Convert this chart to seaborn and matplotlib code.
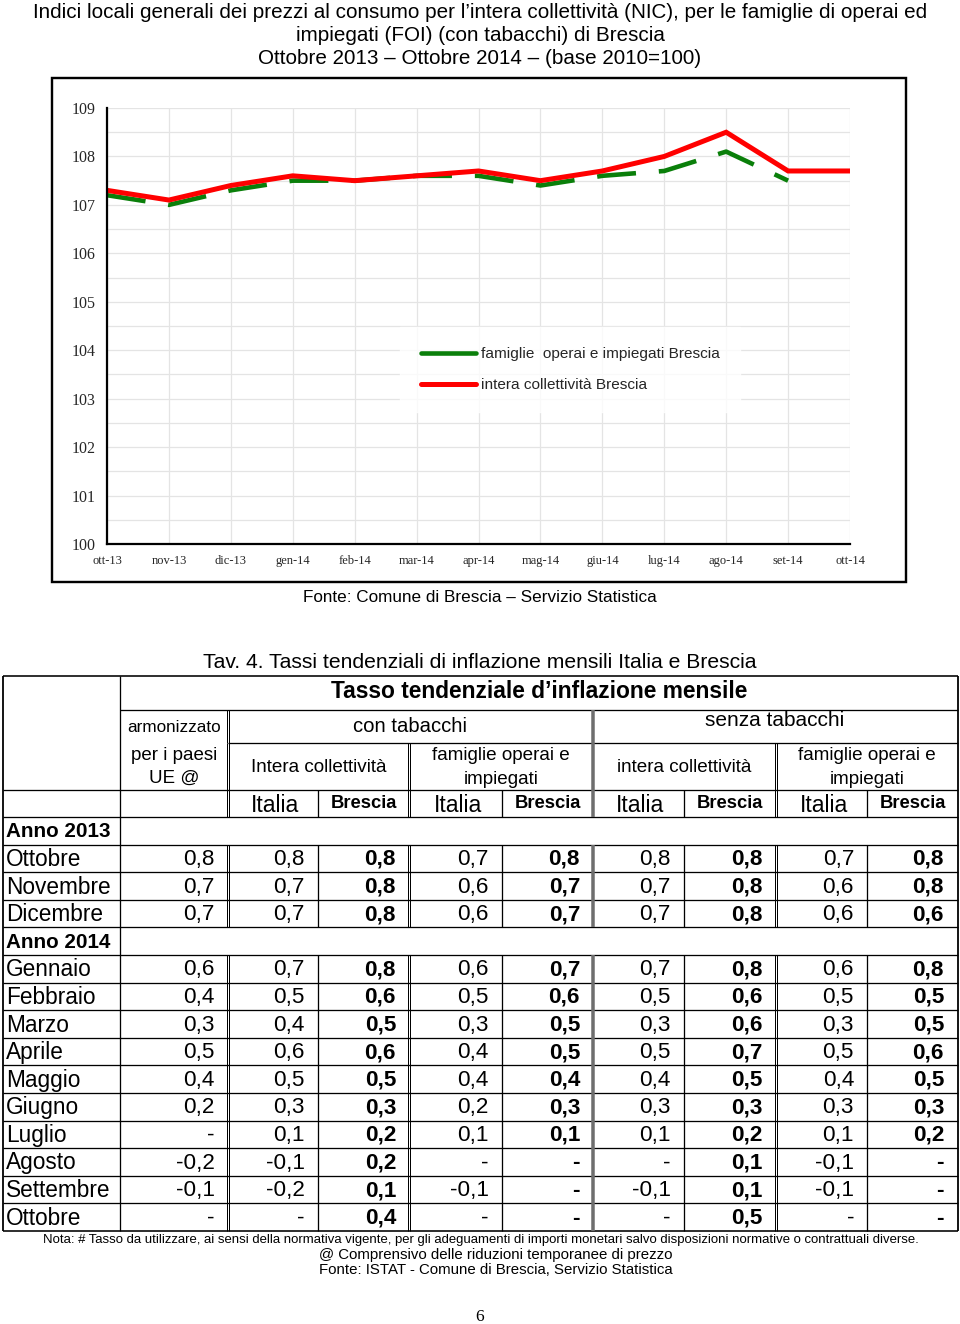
import numpy as np
import pandas as pd
import matplotlib
matplotlib.use("Agg")
import matplotlib.pyplot as plt
import seaborn as sns
from matplotlib.patches import Rectangle
from matplotlib.lines import Line2D

# ---------------- data: line chart ----------------
months = ["ott-13", "nov-13", "dic-13", "gen-14", "feb-14", "mar-14", "apr-14",
          "mag-14", "giu-14", "lug-14", "ago-14", "set-14", "ott-14"]
intera_brescia = [107.3, 107.1, 107.4, 107.6, 107.5, 107.6, 107.7,
                  107.5, 107.7, 108.0, 108.5, 107.7, 107.7]
famiglie_brescia = [107.2, 107.0, 107.3, 107.5, 107.5, 107.6, 107.6,
                    107.4, 107.6, 107.7, 108.1, 107.5, np.nan]
y_ticks = [100, 101, 102, 103, 104, 105, 106, 107, 108, 109]

# ---------------- data: table ----------------
mesi_2013 = ["Ottobre", "Novembre", "Dicembre"]
mesi_2014 = ["Gennaio", "Febbraio", "Marzo", "Aprile", "Maggio", "Giugno",
             "Luglio", "Agosto", "Settembre", "Ottobre"]
armonizzato = [0.8, 0.7, 0.7, 0.6, 0.4, 0.3, 0.5, 0.4, 0.2, None, -0.2, -0.1, None]
con_ic_italia = [0.8, 0.7, 0.7, 0.7, 0.5, 0.4, 0.6, 0.5, 0.3, 0.1, -0.1, -0.2, None]
con_ic_brescia = [0.8, 0.8, 0.8, 0.8, 0.6, 0.5, 0.6, 0.5, 0.3, 0.2, 0.2, 0.1, 0.4]
con_fam_italia = [0.7, 0.6, 0.6, 0.6, 0.5, 0.3, 0.4, 0.4, 0.2, 0.1, None, -0.1, None]
con_fam_brescia = [0.8, 0.7, 0.7, 0.7, 0.6, 0.5, 0.5, 0.4, 0.3, 0.1, None, None, None]
senza_ic_italia = [0.8, 0.7, 0.7, 0.7, 0.5, 0.3, 0.5, 0.4, 0.3, 0.1, None, -0.1, None]
senza_ic_brescia = [0.8, 0.8, 0.8, 0.8, 0.6, 0.6, 0.7, 0.5, 0.3, 0.2, 0.1, 0.1, 0.5]
senza_fam_italia = [0.7, 0.6, 0.6, 0.6, 0.5, 0.3, 0.5, 0.4, 0.3, 0.1, -0.1, -0.1, None]
senza_fam_brescia = [0.8, 0.8, 0.6, 0.8, 0.5, 0.5, 0.6, 0.5, 0.3, 0.2, None, None, None]

table_cols = [armonizzato, con_ic_italia, con_ic_brescia, con_fam_italia, con_fam_brescia,
              senza_ic_italia, senza_ic_brescia, senza_fam_italia, senza_fam_brescia]
bold_cols = [False, False, True, False, True, False, True, False, True]

sns.set_theme(style="white")
SANS = ["Liberation Sans", "DejaVu Sans"]
SERIF = ["Liberation Serif", "DejaVu Serif"]
plt.rcParams["font.family"] = SANS

W, H = 960, 1324
fig = plt.figure(figsize=(W / 100, H / 100), dpi=100)
fig.patch.set_facecolor("white")

# overlay axes in pixel coordinates
ov = fig.add_axes([0, 0, 1, 1])
ov.set_xlim(0, W)
ov.set_ylim(H, 0)
ov.axis("off")

PX = 0.72  # points per pixel


def txt(x, y, s, size, ha="center", weight="normal", family=SANS, va="center"):
    ov.text(x, y, s, fontsize=size, ha=ha, va=va, fontweight=weight,
            family=family, color="black")


def hline(y, x0, x1, lw=1.3, color="black"):
    ov.plot([x0, x1], [y, y], color=color, lw=lw * PX, solid_capstyle="butt")


def vline(x, y0, y1, lw=1.3, color="black"):
    ov.plot([x, x], [y0, y1], color=color, lw=lw * PX, solid_capstyle="butt")


# ---------------- titles ----------------
title_lines = [
    "Indici locali generali dei prezzi al consumo per l\u2019intera collettività (NIC), per le famiglie di operai ed",
    "impiegati (FOI) (con tabacchi) di Brescia",
    "Ottobre 2013 \u2013 Ottobre 2014 \u2013 (base 2010=100)",
]
for i, line in enumerate(title_lines):
    txt(480, 12 + i * 23.5, line, 14.9)

# chart frame
ov.add_patch(Rectangle((52, 78), 854, 504, fill=False, lw=2.4 * PX, ec="black"))

# ---------------- line chart ----------------
ax = fig.add_axes([107 / W, 1 - 544 / H, 743 / W, 436 / H])
df = pd.DataFrame({"pos": np.arange(len(months)), "mese": months,
                   "intera": intera_brescia, "famiglie": famiglie_brescia})
sns.lineplot(data=df, x="pos", y="famiglie", color="#0a7f0a", lw=3.3, ax=ax)
ax.lines[-1].set_dashes((8.5, 5))
ax.lines[-1].set_dash_capstyle("butt")
sns.lineplot(data=df, x="pos", y="intera", color="#ff0000", lw=3.6, ax=ax)
ax.lines[-1].set_solid_joinstyle("miter")

ax.set_xlim(0, len(months) - 1)
ax.set_ylim(100, 109)
ax.set_xticks(df["pos"])
ax.set_xticklabels(months, family=SERIF, fontsize=9)
ax.set_yticks(y_ticks)
ax.set_yticklabels([str(v) for v in y_ticks], family=SERIF, fontsize=11.5)
ax.set_yticks(np.array(y_ticks[:-1]) + 0.5, minor=True)
ax.tick_params(axis="both", which="major", direction="inout", length=8,
               width=1.3, color="black")
ax.tick_params(axis="y", which="major", pad=4)
ax.tick_params(axis="x", which="major", pad=4)
ax.tick_params(axis="y", which="minor", length=0)
ax.grid(True, axis="y", which="both", color="#e4e4e4", lw=0.9)
ax.grid(True, axis="x", which="major", color="#e4e4e4", lw=0.9)
ax.set_xlabel("")
ax.set_ylabel("")
for s in ["top", "right"]:
    ax.spines[s].set_visible(False)
for s in ["left", "bottom"]:
    ax.spines[s].set_color("black")
    ax.spines[s].set_linewidth(1.6)
ax.set_facecolor("none")

handles = [Line2D([], [], color="#0a7f0a", lw=3.3),
           Line2D([], [], color="#ff0000", lw=3.6)]
leg = ax.legend(handles, ["famiglie  operai e impiegati Brescia", "intera collettività Brescia"],
                loc="center left", bbox_to_anchor=(0.395, 0.40), frameon=True,
                fontsize=11.1, handlelength=3.6, handletextpad=0.35,
                labelspacing=1.1, borderpad=1.3, borderaxespad=0, fancybox=False)
leg.get_frame().set_facecolor("white")
leg.get_frame().set_edgecolor("white")

txt(480, 598, "Fonte: Comune di Brescia \u2013 Servizio Statistica", 12.3)

# ---------------- table ----------------
txt(480, 662, "Tav. 4. Tassi tendenziali di inflazione mensili Italia e Brescia", 15.2)

cx = [3, 120, 228, 318, 409, 502, 593, 684, 776, 867, 958]
double_x = {228, 409, 776}
body_top = 817
row_h = 27.6
n_rows = 2 + len(mesi_2013) + len(mesi_2014)
body_bot = body_top + n_rows * row_h


def vdraw(x, y0, y1):
    if x == 593:
        vline(x, y0, y1, lw=3.5, color="#6e6e6e")
    elif x in double_x:
        vline(x - 1.2, y0, y1, lw=1.0)
        vline(x + 1.2, y0, y1, lw=1.0)
    else:
        vline(x, y0, y1)


# header horizontal lines
hline(676, 3, 958, lw=1.6)
hline(710, 120, 958)
hline(743, 228, 958)
hline(790, 3, 958)
hline(817, 3, 958)
# header vertical lines
vline(3, 676, body_bot, lw=1.8)
vline(958, 676, body_bot, lw=1.8)
vline(120, 676, body_bot)
for x in [228, 593]:
    vdraw(x, 710, 743)
for x in [228, 409, 593, 776]:
    vdraw(x, 743, 790)
for x in cx[2:-1]:
    vdraw(x, 790, 817)

# header texts
txt(539, 692, "Tasso tendenziale d\u2019inflazione mensile", 16.4, weight="bold")
txt(174, 727, "armonizzato", 12.3)
txt(410, 726, "con tabacchi", 14.6)
txt(775, 721, "senza tabacchi", 15)
txt(174, 756, "per i paesi", 13.5)
txt(174, 778, "UE @", 13.5)
txt(319, 767, "Intera collettività", 13.6)
txt(501, 756, "famiglie operai e", 13.6)
txt(501, 779, "impiegati", 13.6)
txt(684, 767, "intera collettività", 13.6)
txt(867, 756, "famiglie operai e", 13.6)
txt(867, 779, "impiegati", 13.6)
for i in range(2, 10):
    xc = (cx[i] + cx[i + 1]) / 2
    if i % 2 == 0:
        txt(xc + 2, 805, "Italia", 16.5)
    else:
        txt(xc, 803, "Brescia", 13.2, weight="bold")


def fmt(v):
    return "-" if v is None else f"{v:.1f}".replace(".", ",")


rows = [("Anno 2013", None)] + [(m, k) for k, m in enumerate(mesi_2013)] + \
       [("Anno 2014", None)] + [(m, k + len(mesi_2013)) for k, m in enumerate(mesi_2014)]

for r, (label, k) in enumerate(rows):
    y0 = body_top + r * row_h
    y1 = y0 + row_h
    yc = (y0 + y1) / 2 + 1
    hline(y1, 3, 958, lw=1.6 if r == n_rows - 1 else 1.3)
    if k is None:
        txt(6, yc, label, 14.9, ha="left", weight="bold")
        continue
    txt(6, yc, label, 16.3, ha="left")
    for x in cx[2:-1]:
        vdraw(x, y0, y1)
    for j, col in enumerate(table_cols):
        txt(cx[j + 2] - 13 if j < 8 else cx[-1] - 14, yc, fmt(col[k]), 16.2,
            ha="right", weight="bold" if bold_cols[j] else "normal")

# notes
txt(481, 1240, "Nota: # Tasso da utilizzare, ai sensi della normativa vigente, per gli adeguamenti di importi monetari salvo disposizioni normative o contrattuali diverse.", 9.45)
txt(496, 1255, "@ Comprensivo delle riduzioni temporanee di prezzo", 10.8)
txt(496, 1270, "Fonte: ISTAT - Comune di Brescia, Servizio Statistica", 10.8)
txt(480, 1317, "6", 12.5, family=SERIF)

fig.savefig("out.png", dpi=100, facecolor="white")
